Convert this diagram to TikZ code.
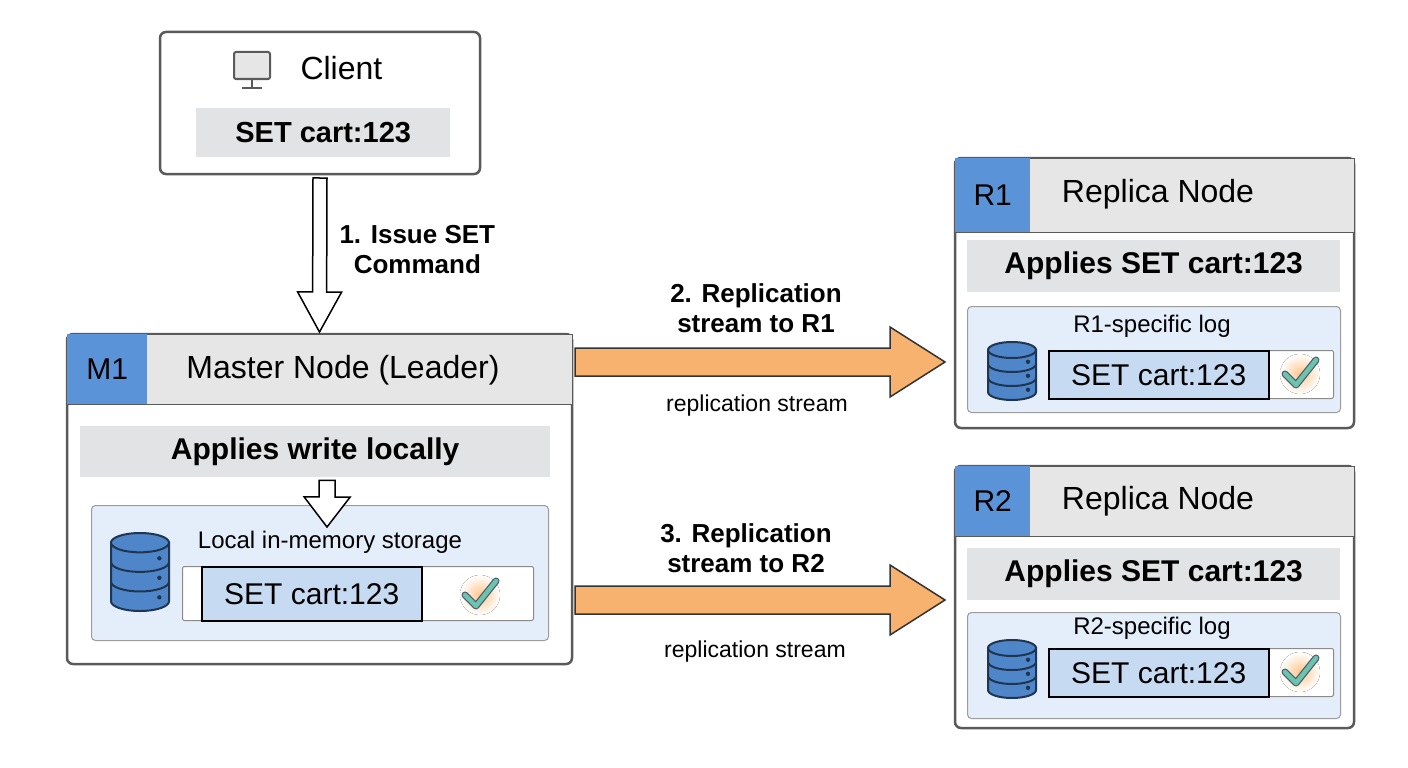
\documentclass[tikz,border=0pt]{standalone}
\usepackage{fontspec}
\setmainfont{Liberation Sans}
\usetikzlibrary{calc,positioning}

\definecolor{frame}{HTML}{5A5A5A}
\definecolor{headgray}{HTML}{E6E6E6}
\definecolor{bandgray}{HTML}{E2E3E4}
\definecolor{idblue}{HTML}{5B93D8}
\definecolor{panelblue}{HTML}{E4EEFA}
\definecolor{cellblue}{HTML}{C6DAF2}
\definecolor{dbblue}{HTML}{4F86C9}
\definecolor{dbline}{HTML}{1F3550}
\definecolor{streamorange}{HTML}{F6B26E}
\definecolor{checkteal}{HTML}{6CC4AC}

\tikzset{
	box/.style={draw=frame,line width=2.5pt,rounded corners=6pt,fill=white,anchor=north west,inner sep=0pt,outer sep=0pt},
	head/.style={draw=frame,line width=1pt,fill=headgray,anchor=north west,inner sep=0pt},
	tag/.style={fill=idblue,anchor=north west,inner sep=0pt,font=\fontsize{30}{32}\selectfont},
	title/.style={font=\fontsize{32}{34}\selectfont},
	band/.style={fill=bandgray,anchor=north west,inner sep=0pt,font=\fontsize{30}{32}\selectfont\bfseries},
	panel/.style={draw=frame!60,line width=1pt,rounded corners=4pt,fill=panelblue,anchor=north west,inner sep=0pt},
	row/.style={draw=frame!70,line width=1pt,fill=white,rounded corners=2pt,anchor=north west,inner sep=0pt},
	cell/.style={draw=black,line width=1.5pt,fill=cellblue,anchor=north west,inner sep=0pt,font=\fontsize{30}{32}\selectfont},
	hollow/.style={draw=black,line width=1.5pt,fill=white,line join=miter},
	stream/.style={draw=black!80,line width=1.5pt,fill=streamorange,line join=miter},
	lbl/.style={align=center,font=\fontsize{26}{30}\selectfont\bfseries},
	note/.style={font=\fontsize{23}{25}\selectfont}
}

% fat arrow: style, from, to, shaft half width, head half width, head length
\newcommand{\fatarrow}[6]{%
	\coordinate (neck) at ($(#3)!#6!(#2)$);
	\draw[#1] ($(#2)!#4!90:(#3)$) -- ($(neck)!#4!90:(#3)$) -- ($(neck)!#5!90:(#3)$) -- (#3)
		-- ($(neck)!#5!-90:(#3)$) -- ($(neck)!#4!-90:(#3)$) -- ($(#2)!#4!-90:(#3)$) -- cycle;}

% database stack: x, y, width, height
\newcommand{\dbicon}[4]{%
	\begin{scope}[shift={(#1,#2)},line width=2pt,draw=dbline]
		\filldraw[fill=dbblue] (-#3/2,-#4/2+#3/6) -- (-#3/2,#4/2-#3/6) arc[x radius=#3/2,y radius=#3/6,start angle=180,end angle=0] -- (#3/2,-#4/2+#3/6) -- cycle;
		\filldraw[fill=dbblue] (0,-#4/2+#3/6) ellipse[x radius=#3/2,y radius=#3/6];
		\foreach \k in {1,2}
			\draw (-#3/2,{-#4/2+#3/6+\k*(#4-#3/3)/3}) arc[x radius=#3/2,y radius=#3/6,start angle=180,end angle=0];
		\foreach \k in {0.5,1.5,2.5}
			\fill[dbline] (#3/2-#3/6,{-#4/2+#3/6+\k*(#4-#3/3)/3+#3/10}) circle (2.2);
	\end{scope}}

\newcommand{\tick}[2]{%
	\fill[inner color=orange!45,outer color=white] (#1,#2) circle (20);
	\draw[dbline!80,line width=7pt,line cap=round,line join=round] (#1-15,#2) -- (#1-4,#2+11) -- (#1+16,#2-14);
	\draw[checkteal,line width=4.5pt,line cap=round,line join=round] (#1-15,#2) -- (#1-4,#2+11) -- (#1+16,#2-14);}

\begin{document}
\begin{tikzpicture}[x=1pt,y=-1pt,font=\sffamily]
	\useasboundingbox (0,0) rectangle (1408,768);

	% client
	\node [box,minimum width=320,minimum height=142] at (160,32) (client) {};
	\node [title,anchor=west] at (297,68) (clientname) {Client};
	\begin{scope}[line width=2pt,draw=frame]
		\draw[fill=headgray,rounded corners=2pt] (234,52) rectangle (270,79);
		\draw (252,79) -- (252,87);
		\draw (242,88) -- (262,88);
	\end{scope}
	\node [band,font=\fontsize{29}{31}\selectfont\bfseries,minimum width=254,minimum height=49] at (196,108) (clientcmd) {SET cart:123};

	% master
	\node [box,minimum width=505,minimum height=330] at (67,334) (master) {};
	\node [head,minimum width=505,minimum height=70] at (67,334) (masterhead) {};
	\node [tag,minimum width=80,minimum height=70] at (67,334) (m1) {M1};
	\node [title] at (343,370) (mastername) {Master Node (Leader)};
	\node [band,minimum width=470,minimum height=51] at (80,426) (mapply) {Applies write locally};
	\node [panel,minimum width=457,minimum height=135] at (91,505) (mstore) {};
	\node [note,font=\fontsize{24}{26}\selectfont] at (330,542) (mstorename) {Local in-memory storage};
	\node [row,minimum width=351,minimum height=54] at (182,566) (mrow) {};
	\node [cell,minimum width=220,minimum height=54] at (201,566) (mcell) {SET cart:123};
	\dbicon{140}{572}{58}{78}
	\tick{480}{595}

	% replica 1
	\node [box,minimum width=399,minimum height=270] at (955,158) (rep1) {};
	\node [head,minimum width=399,minimum height=74] at (955,158) (rep1head) {};
	\node [tag,minimum width=75,minimum height=74] at (955,158) (r1) {R1};
	\node [title] at (1158,194) (rep1name) {Replica Node};
	\node [band,minimum width=373,minimum height=52] at (967,240) (r1apply) {Applies SET cart:123};
	\node [panel,minimum width=373,minimum height=106] at (967,306) (r1store) {};
	\node [note,font=\fontsize{24}{26}\selectfont] at (1152,326) (r1storename) {R1-specific log};
	\node [row,minimum width=285,minimum height=48] at (1048,350) (r1row) {};
	\node [cell,minimum width=220,minimum height=48] at (1048,350) (r1cell) {SET cart:123};
	\dbicon{1012}{371}{48}{58}
	\tick{1300}{374}

	% replica 2
	\node [box,minimum width=399,minimum height=262] at (955,466) (rep2) {};
	\node [head,minimum width=399,minimum height=70] at (955,466) (rep2head) {};
	\node [tag,minimum width=75,minimum height=70] at (955,466) (r2) {R2};
	\node [title] at (1158,501) (rep2name) {Replica Node};
	\node [band,minimum width=373,minimum height=52] at (967,548) (r2apply) {Applies SET cart:123};
	\node [panel,minimum width=373,minimum height=106] at (967,612) (r2store) {};
	\node [note,font=\fontsize{24}{26}\selectfont] at (1152,628) (r2storename) {R2-specific log};
	\node [row,minimum width=285,minimum height=48] at (1048,648) (r2row) {};
	\node [cell,minimum width=220,minimum height=48] at (1048,648) (r2cell) {SET cart:123};
	\dbicon{1012}{669}{48}{58}
	\tick{1300}{672}

	% arrows
	\fatarrow{hollow}{$(client.south)+(0,4)$}{$(master.north)+(0,-2)$}{7pt}{22pt}{40pt}
	\node [lbl,anchor=west] at (336,250) (issuelbl) {1. Issue SET\\Command};
	\fatarrow{hollow}{$(mapply.south)+(12,3)$}{$(mstore.north)+(7,22)$}{8pt}{23pt}{30pt}

	\fatarrow{stream}{$(master.north east)+(3,28)$}{$(rep1.west)+(-10,69)$}{14pt}{35pt}{55pt}
	\node [lbl] at (756,308) (s1lbl) {2. Replication\\stream to R1};
	\node [note] at (757,406) (s1note) {replication stream};
	\fatarrow{stream}{$(master.north east)+(3,266)$}{$(rep2.west)+(-10,3)$}{14pt}{35pt}{55pt}
	\node [lbl] at (746,548) (s2lbl) {3. Replication\\stream to R2};
	\node [note] at (755,652) (s2note) {replication stream};
\end{tikzpicture}
\end{document}
